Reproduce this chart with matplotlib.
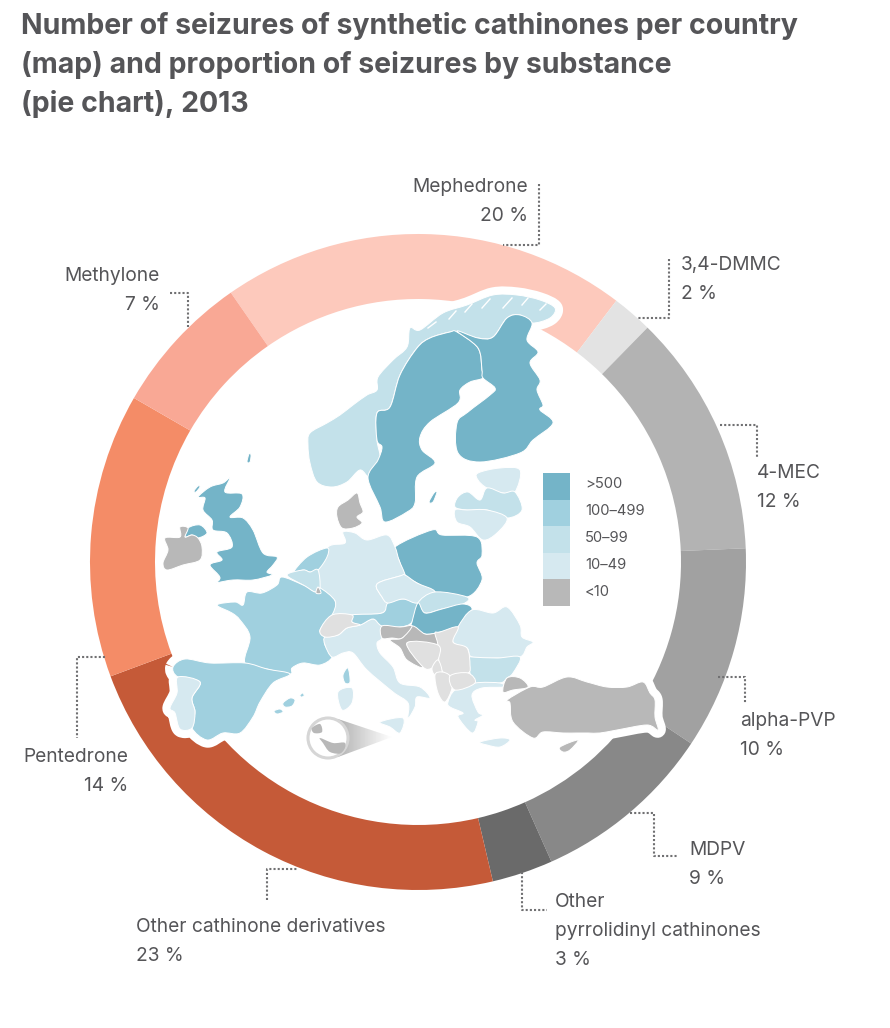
import numpy as np
import matplotlib

matplotlib.use("Agg")
import matplotlib.pyplot as plt
from matplotlib.patches import Circle, PathPatch, Polygon, Rectangle
from matplotlib.path import Path

plt.rcParams["font.family"] = ["Inter", "DejaVu Sans"]

TITLE = ("Number of seizures of synthetic cathinones per country\n"
         "(map) and proportion of seizures by substance\n"
         "(pie chart), 2013")

# pie, clockwise from the top left
SUBSTANCES = ["Mephedrone", "3,4-DMMC", "4-MEC", "alpha-PVP", "MDPV",
              "Other\npyrrolidinyl cathinones", "Other cathinone derivatives",
              "Pentedrone", "Methylone"]
SHARES = [20, 2, 12, 10, 9, 3, 23, 14, 7]
PIE_COLOURS = ["#fdc9bc", "#e3e3e3", "#b3b3b3", "#a1a1a1", "#888888",
               "#6a6a6a", "#c55a38", "#f48c67", "#f9a895"]

# x, y of the first line, alignment, then the dotted leader
LABEL_SPOTS = [(528, 178, "right"), (681, 256, "left"), (757, 464, "left"),
               (740, 712, "left"), (689, 841, "left"), (555, 893, "left"),
               (136, 918, "left"), (128, 748, "right"), (160, 267, "right")]
LEADERS = [[(539, 184), (539, 245), (503, 245)],
           [(669, 259), (669, 318), (638, 318)],
           [(720, 425), (757, 425), (757, 458)],
           [(718, 677), (745, 677), (745, 703)],
           [(630, 813), (654, 813), (654, 856), (678, 856)],
           [(522, 872), (522, 910), (547, 910)],
           [(267, 900), (267, 869), (298, 869)],
           [(105, 657), (77, 657), (77, 738)],
           [(170, 293), (188, 293), (188, 327)]]

CLASSES = [">500", "100–499", "50–99", "10–49", "<10"]
CLASS_COLOURS = ["#74b4c8", "#a0d0df", "#c3e1ea", "#d6e9f0", "#b8b8b8"]
NO_DATA = "#e0e0e0"

# country outlines, in pixels
NORWAY = [(310, 463), (317, 482), (332, 487), (347, 482), (360, 470), (370, 477), (380, 460), (377, 440),
          (377, 413), (390, 407), (400, 375), (417, 348), (430, 338), (450, 332), (457, 332), (478, 338),
          (493, 337), (507, 318), (520, 315), (532, 323), (550, 318), (555, 308), (540, 300), (517, 295),
          (493, 295), (467, 305), (443, 313), (420, 330), (410, 328), (407, 347), (393, 360), (378, 377),
          (377, 390), (367, 395), (353, 405), (340, 415), (327, 423), (310, 433), (308, 445)]
SWEDEN = [(390, 407), (377, 413), (377, 440), (382, 447), (378, 460), (368, 478), (380, 507), (385, 522),
          (407, 512), (415, 503), (417, 477), (435, 463), (422, 450), (420, 437), (430, 422), (458, 403),
          (460, 390), (470, 382), (483, 378), (482, 370), (478, 348), (457, 332), (450, 332), (430, 338),
          (417, 348), (400, 375)]
FINLAND = [(457, 331), (478, 338), (493, 337), (507, 318), (520, 315), (532, 323), (527, 340), (538, 352),
           (530, 363), (540, 380), (537, 390), (543, 405), (540, 410), (553, 423), (533, 440), (520, 453),
           (480, 462), (458, 453), (457, 423), (468, 412), (490, 395), (495, 388), (483, 378), (482, 370),
           (478, 348)]
ESTONIA = [(478, 473), (500, 468), (520, 470), (515, 492), (503, 493), (487, 488), (478, 480)]
LATVIA = [(455, 507), (458, 497), (468, 492), (480, 500), (487, 488), (503, 493), (515, 492), (522, 510),
          (507, 518), (487, 510), (467, 510)]
LITHUANIA = [(455, 510), (467, 510), (487, 510), (507, 518), (497, 533), (483, 540), (470, 527), (457, 522)]
POLAND = [(395, 547), (399, 560), (405, 575), (417, 583), (435, 592), (467, 597), (482, 580), (477, 563),
          (482, 555), (477, 537), (442, 535), (432, 530)]
GERMANY = [(328, 547), (345, 543), (343, 532), (355, 533), (367, 540), (387, 535), (395, 547), (399, 560),
           (405, 575), (400, 576), (377, 584), (382, 597), (388, 603), (382, 613), (352, 615), (332, 615),
           (335, 601), (320, 588), (318, 570)]
NETHERLANDS = [(293, 573), (307, 557), (327, 548), (327, 557), (318, 570), (310, 572), (303, 570)]
BELGIUM = [(287, 575), (303, 570), (310, 572), (318, 570), (320, 588), (315, 592), (303, 585)]
LUXEMBOURG = [(316, 593), (318, 587), (321, 593)]
DENMARK = [(338, 507), (348, 500), (357, 493), (360, 503), (363, 512), (357, 517), (362, 523), (353, 528),
           (342, 528), (337, 517)]
BRITAIN = [(210, 587), (220, 578), (210, 565), (222, 560), (217, 552), (232, 547), (227, 533), (213, 530),
           (212, 520), (203, 510), (205, 498), (198, 497), (210, 487), (223, 483), (230, 478), (225, 492),
           (242, 494), (240, 507), (230, 517), (243, 518), (253, 530), (263, 553), (277, 557), (273, 565),
           (267, 572), (272, 575), (253, 580), (233, 580), (217, 583)]
N_IRELAND = [(185, 537), (188, 528), (200, 525), (207, 533), (198, 538), (192, 535)]
SHETLAND = [(247, 462), (249, 454), (251, 455), (250, 462)]
HEBRIDES = [(194, 491), (198, 486), (200, 487), (196, 492)]
IRELAND = [(165, 538), (180, 537), (180, 527), (188, 528), (185, 537), (192, 535), (198, 538), (202, 547),
           (200, 560), (183, 565), (167, 570), (163, 563), (168, 550)]
GOTLAND = [(429, 502), (434, 493), (437, 492), (433, 502)]
FRANCE = [(217, 605), (235, 602), (243, 605), (247, 592), (262, 593), (277, 585), (282, 577), (303, 585),
          (315, 592), (320, 588), (335, 601), (332, 615), (320, 630), (325, 637), (325, 645), (332, 657),
          (320, 665), (303, 663), (292, 668), (290, 674), (267, 669), (245, 663), (250, 637), (240, 620),
          (232, 613)]
SPAIN = [(173, 667), (185, 659), (210, 663), (245, 663), (267, 669), (290, 674), (273, 683), (260, 702),
         (253, 717), (240, 733), (223, 733), (207, 740), (192, 728), (195, 712), (192, 698), (200, 682),
         (178, 677)]
PORTUGAL = [(178, 677), (200, 682), (192, 698), (195, 712), (192, 728), (180, 729), (175, 713), (170, 708),
            (177, 693)]
MALLORCA = [(283, 703), (290, 698), (295, 700), (292, 706), (285, 707)]
IBIZA = [(274, 711), (280, 709), (283, 712), (277, 714)]
MENORCA = [(300, 695), (303, 693), (304, 696), (301, 697)]
ITALY = [(325, 637), (338, 635), (347, 628), (360, 625), (373, 619), (382, 626), (382, 638), (377, 643),
         (380, 653), (393, 667), (400, 683), (420, 687), (430, 698), (417, 697), (415, 707), (408, 718),
         (408, 703), (393, 692), (367, 670), (353, 653), (343, 653), (332, 657), (325, 645)]
SICILY = [(380, 722), (403, 718), (400, 733), (390, 727)]
SARDINIA = [(338, 692), (352, 688), (352, 703), (342, 710)]
CORSICA = [(343, 675), (348, 668), (350, 682), (345, 683)]
SWITZERLAND = [(320, 630), (332, 615), (352, 615), (352, 622), (360, 625), (347, 628), (338, 635), (325, 637)]
AUSTRIA = [(352, 615), (382, 613), (388, 603), (403, 599), (418, 603), (412, 622), (400, 627), (382, 626),
           (373, 619), (360, 625), (352, 622)]
CZECHIA = [(377, 584), (400, 576), (405, 575), (417, 583), (435, 592), (418, 603), (403, 599), (388, 603),
           (382, 597)]
SLOVAKIA = [(418, 603), (435, 592), (467, 597), (463, 604), (442, 609), (425, 613)]
HUNGARY = [(412, 622), (418, 603), (425, 613), (442, 609), (463, 604), (472, 610), (458, 627), (440, 632),
           (425, 634), (412, 626)]
ROMANIA = [(458, 627), (472, 610), (493, 613), (507, 607), (520, 625), (522, 637), (533, 642), (527, 647),
           (520, 657), (497, 658), (472, 657), (467, 648), (453, 642)]
BULGARIA = [(467, 656), (472, 657), (497, 658), (520, 657), (513, 673), (507, 678), (500, 683), (475, 683),
            (470, 673)]
SERBIA = [(435, 633), (440, 632), (458, 627), (453, 642), (467, 648), (470, 665), (468, 673), (450, 676),
          (440, 667), (438, 645)]
CROATIA = [(390, 640), (402, 638), (412, 626), (425, 634), (437, 634), (438, 645), (407, 643), (423, 667),
           (407, 660), (400, 648)]
SLOVENIA = [(382, 626), (400, 627), (412, 626), (402, 638), (392, 638), (382, 638)]
BOSNIA = [(407, 643), (438, 645), (438, 660), (432, 668), (423, 667)]
MONTENEGRO = [(432, 668), (438, 660), (442, 672), (435, 675)]
ALBANIA = [(442, 672), (450, 676), (452, 688), (445, 702), (438, 693), (435, 675)]
MACEDONIA = [(450, 676), (468, 673), (475, 683), (455, 690)]
GREECE = [(448, 702), (455, 690), (475, 683), (500, 683), (503, 687), (482, 688), (472, 695), (478, 712),
          (483, 715), (475, 720), (478, 722), (472, 733), (458, 717), (463, 713), (450, 707)]
CRETE = [(480, 742), (500, 738), (510, 740), (500, 747), (487, 745)]
TURKEY = [(507, 700), (530, 687), (543, 687), (567, 677), (587, 682), (607, 687), (627, 687), (643, 682),
          (650, 693), (655, 700), (655, 717), (658, 730), (647, 725), (617, 730), (600, 733), (588, 733),
          (577, 733), (563, 733), (543, 732), (533, 738), (513, 722), (510, 703)]
THRACE = [(503, 692), (507, 678), (520, 678), (528, 687), (513, 690)]
CYPRUS = [(560, 747), (578, 740), (570, 750), (563, 752)]
MALTA = [(320, 738), (333, 743), (345, 743), (342, 753), (330, 752), (323, 743)]
GOZO = [(312, 728), (320, 724), (322, 732), (314, 733)]

COUNTRIES = [(NORWAY, 2), (SWEDEN, 0), (FINLAND, 0), (ESTONIA, 3), (LATVIA, 2), (LITHUANIA, 3),
             (POLAND, 0), (GERMANY, 3), (NETHERLANDS, 1), (BELGIUM, 2), (DENMARK, 4),
             (BRITAIN, 0), (N_IRELAND, 0), (SHETLAND, 0), (HEBRIDES, 0), (IRELAND, 4), (GOTLAND, 0),
             (FRANCE, 1), (SPAIN, 1), (PORTUGAL, 3), (MALLORCA, 1), (IBIZA, 1), (MENORCA, 1), (ITALY, 3),
             (SICILY, 3), (SARDINIA, 3), (CORSICA, 1), (AUSTRIA, 1), (CZECHIA, 3), (SLOVAKIA, 2),
             (HUNGARY, 0), (ROMANIA, 3), (BULGARIA, 2), (CROATIA, 4), (SLOVENIA, 4), (GREECE, 3),
             (CRETE, 3), (TURKEY, 4), (THRACE, 4), (CYPRUS, 4), (LUXEMBOURG, 4)]
UNREPORTED = [SWITZERLAND, SERBIA, BOSNIA, MONTENEGRO, ALBANIA, MACEDONIA]
HALOED = [NORWAY, FINLAND, SPAIN, PORTUGAL, TURKEY, THRACE]
FJORDS = [[(449, 319), (456, 311)], [(465, 312), (472, 304)], [(482, 308), (490, 299)],
          [(503, 308), (512, 298)], [(522, 305), (528, 298)], [(428, 328), (436, 322)],
          [(540, 310), (546, 304)]]

INK = "#555558"


def soft_shape(outline, **style):
    """Closed outline through the traced points, with cubic joins between them."""
    pts = np.array(outline, dtype=float)
    verts = [pts[0]]
    codes = [Path.MOVETO]
    n = len(pts)
    for i in range(n):
        before, here, nxt, after = pts[i - 1], pts[i], pts[(i + 1) % n], pts[(i + 2) % n]
        verts += [here + (nxt - before) / 6, nxt - (after - here) / 6, nxt]
        codes += [Path.CURVE4] * 3
    return PathPatch(Path(verts, codes), **style)


fig = plt.figure(figsize=(8.9, 10.28), dpi=100)
ax = fig.add_axes([0, 0, 1, 1])

# y runs downwards here, so counterclock=True comes out clockwise on screen
ax.pie(SHARES, colors=PIE_COLOURS, center=(418, 562), radius=328, startangle=235.2,
       counterclock=True, wedgeprops={"width": 65, "linewidth": 0})
ax.set_xlim(0, 890)
ax.set_ylim(1028, 0)
ax.set_aspect("equal")
ax.axis("off")

for outline in HALOED:
    ax.add_patch(soft_shape(outline, fc="white", ec="white", lw=11, joinstyle="round", zorder=3))

for outline, cls in COUNTRIES:
    ax.add_patch(soft_shape(outline, fc=CLASS_COLOURS[cls], ec="white", lw=0.7, joinstyle="round", zorder=4))
for outline in UNREPORTED:
    ax.add_patch(soft_shape(outline, fc=NO_DATA, ec="white", lw=0.7, joinstyle="round", zorder=4))
for fjord in FJORDS:
    xs, ys = zip(*fjord)
    ax.plot(xs, ys, color="white", lw=1.0, zorder=4.5)

# Malta inset: grey cone fading out to the right of a small lens
cone = Polygon([(338, 719), (392, 737), (338, 757)], closed=True, fc="none", ec="none", zorder=4)
ax.add_patch(cone)
fade = np.linspace(0.70, 1.0, 64)[None, :]
img = ax.imshow(fade, cmap="gray", vmin=0, vmax=1, extent=(338, 392, 757, 719), aspect="auto", zorder=4)
img.set_clip_path(cone)
ax.set_xlim(0, 890)
ax.set_ylim(1028, 0)
lens = Circle((328, 738), 20, fc="white", ec="#d6d6d6", lw=2.2, zorder=5)
ax.add_patch(lens)
for outline in (MALTA, GOZO):
    island = soft_shape(outline, fc="#b8b8b8", ec="none", zorder=6)
    ax.add_patch(island)
    island.set_clip_path(lens)

# legend
for i, (label, colour) in enumerate(zip(CLASSES, CLASS_COLOURS)):
    ax.add_patch(Rectangle((543, 473 + i * 26.6), 27, 26.6, fc=colour, ec="none", zorder=4))
    ax.text(585, 484 + i * 27, label, fontsize=10.6, color=INK, va="center", ha="left", zorder=5)

# labels and leaders
for name, share, (x, y, align), leader in zip(SUBSTANCES, SHARES, LABEL_SPOTS, LEADERS):
    ax.text(x, y, f"{name}\n{share} %", fontsize=13.8, color=INK, ha=align, va="top",
            linespacing=1.78, multialignment=align, zorder=6)
    xs, ys = zip(*leader)
    ax.plot(xs, ys, color="#707072", lw=1.5, ls=(0, (1, 1)), zorder=6)

ax.text(21, 12, TITLE, fontsize=20.5, fontweight="bold", color=INK, va="top", ha="left", linespacing=1.5)

fig.savefig("out.png", dpi=100)
